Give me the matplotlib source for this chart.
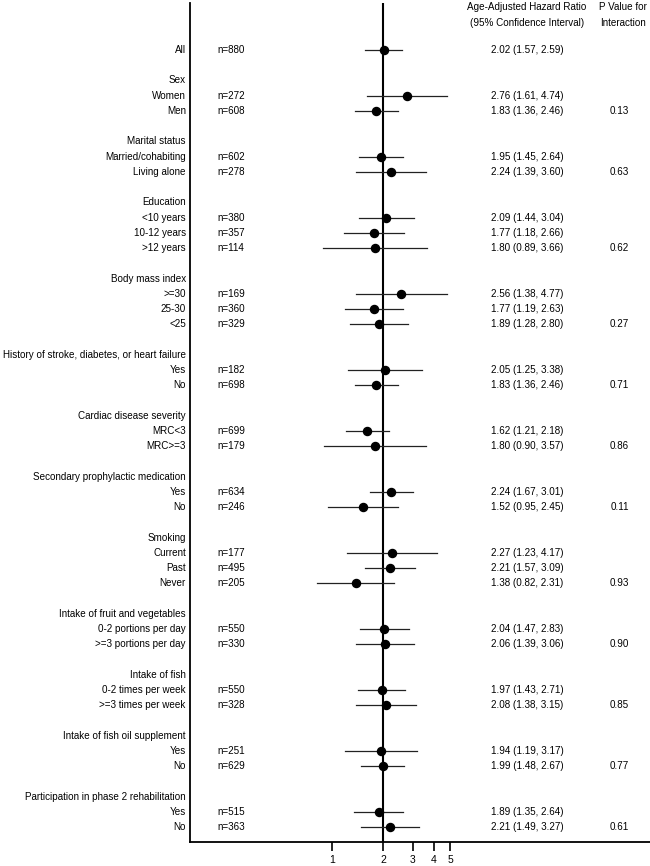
import numpy as np
import matplotlib
matplotlib.use("Agg")
import matplotlib.pyplot as plt
import matplotlib.transforms as mtransforms

plt.rcParams["font.family"] = ["Liberation Sans", "DejaVu Sans"]

# one entry per row, top to bottom; blank/header rows have no estimate
row_labels = [
    "All", "",
    "Sex", "Women", "Men", "",
    "Marital status", "Married/cohabiting", "Living alone", "",
    "Education", "<10 years", "10-12 years", ">12 years", "",
    "Body mass index", ">=30", "25-30", "<25", "",
    "History of stroke, diabetes, or heart failure", "Yes", "No", "",
    "Cardiac disease severity", "MRC<3", "MRC>=3", "",
    "Secondary prophylactic medication", "Yes", "No", "",
    "Smoking", "Current", "Past", "Never", "",
    "Intake of fruit and vegetables", "0-2 portions per day", ">=3 portions per day", "",
    "Intake of fish", "0-2 times per week", ">=3 times per week", "",
    "Intake of fish oil supplement", "Yes", "No", "",
    "Participation in phase 2 rehabilitation", "Yes", "No",
]
n_counts = [
    880, None,
    None, 272, 608, None,
    None, 602, 278, None,
    None, 380, 357, 114, None,
    None, 169, 360, 329, None,
    None, 182, 698, None,
    None, 699, 179, None,
    None, 634, 246, None,
    None, 177, 495, 205, None,
    None, 550, 330, None,
    None, 550, 328, None,
    None, 251, 629, None,
    None, 515, 363,
]
hr = [
    2.02, None,
    None, 2.76, 1.83, None,
    None, 1.95, 2.24, None,
    None, 2.09, 1.77, 1.80, None,
    None, 2.56, 1.77, 1.89, None,
    None, 2.05, 1.83, None,
    None, 1.62, 1.80, None,
    None, 2.24, 1.52, None,
    None, 2.27, 2.21, 1.38, None,
    None, 2.04, 2.06, None,
    None, 1.97, 2.08, None,
    None, 1.94, 1.99, None,
    None, 1.89, 2.21,
]
ci_low = [
    1.57, None,
    None, 1.61, 1.36, None,
    None, 1.45, 1.39, None,
    None, 1.44, 1.18, 0.89, None,
    None, 1.38, 1.19, 1.28, None,
    None, 1.25, 1.36, None,
    None, 1.21, 0.90, None,
    None, 1.67, 0.95, None,
    None, 1.23, 1.57, 0.82, None,
    None, 1.47, 1.39, None,
    None, 1.43, 1.38, None,
    None, 1.19, 1.48, None,
    None, 1.35, 1.49,
]
ci_high = [
    2.59, None,
    None, 4.74, 2.46, None,
    None, 2.64, 3.60, None,
    None, 3.04, 2.66, 3.66, None,
    None, 4.77, 2.63, 2.80, None,
    None, 3.38, 2.46, None,
    None, 2.18, 3.57, None,
    None, 3.01, 2.45, None,
    None, 4.17, 3.09, 2.31, None,
    None, 2.83, 3.06, None,
    None, 2.71, 3.15, None,
    None, 3.17, 2.67, None,
    None, 2.64, 3.27,
]
p_interaction = [
    None, None,
    None, None, "0.13", None,
    None, None, "0.63", None,
    None, None, None, "0.62", None,
    None, None, None, "0.27", None,
    None, None, "0.71", None,
    None, None, "0.86", None,
    None, None, "0.11", None,
    None, None, None, "0.93", None,
    None, None, "0.90", None,
    None, None, "0.85", None,
    None, None, "0.77", None,
    None, None, "0.61",
]
x_ticks = [1, 2, 3, 4, 5]

W, H = 650, 866
fig = plt.figure(figsize=(W / 100, H / 100), dpi=100)
left_px, right_px, top_px, bottom_px = 190, 650, 3, 842
ax = fig.add_axes([left_px / W, 1 - bottom_px / H,
                   (right_px - left_px) / W, (bottom_px - top_px) / H])

# log scale: 1 unit of ln(x) ~ 73.6 px, HR=2 at x=383 px
k = 73.6
ax.set_xscale("log")
ax.set_xlim(2 * np.exp((left_px - 383) / k), 2 * np.exp((right_px - 383) / k))
y_first, step = 50, 15.235
ax.set_ylim((bottom_px - y_first) / step, (top_px - y_first) / step)

ax.axvline(2, color="black", lw=1.5, zorder=1)

fs = 7.1
trans = mtransforms.blended_transform_factory(ax.transAxes, ax.transData)
for i, lab in enumerate(row_labels):
    if lab:
        ax.text(-0.009, i, lab, transform=trans, ha="right", va="center",
                fontsize=fs, clip_on=False)
    if hr[i] is not None:
        ax.plot([ci_low[i], ci_high[i]], [i, i], color="#222222", lw=0.9, zorder=2)
        ax.plot(hr[i], i, "o", color="black", ms=5.8, zorder=3)
        ax.text(0.0587, i, f"n={n_counts[i]}", transform=trans, ha="left",
                va="center", fontsize=fs)
        ax.text(0.7326, i, f"{hr[i]:.2f} ({ci_low[i]:.2f}, {ci_high[i]:.2f})",
                transform=trans, ha="center", va="center", fontsize=fs)
    if p_interaction[i] is not None:
        ax.text(0.934, i, p_interaction[i], transform=trans, ha="center",
                va="center", fontsize=fs)

hdr_rows = [(7 - y_first) / step, (23 - y_first) / step]
ax.text(0.7326, hdr_rows[0], "Age-Adjusted Hazard Ratio", transform=trans,
        ha="center", va="center", fontsize=fs)
ax.text(0.7326, hdr_rows[1], "(95% Confidence Interval)", transform=trans,
        ha="center", va="center", fontsize=fs)
ax.text(0.994, hdr_rows[0], "P Value for", transform=trans,
        ha="right", va="center", fontsize=fs)
ax.text(0.992, hdr_rows[1], "Interaction", transform=trans,
        ha="right", va="center", fontsize=fs)

for side in ("top", "right"):
    ax.spines[side].set_visible(False)
for side in ("left", "bottom"):
    ax.spines[side].set_linewidth(1.3)
ax.set_xticks(x_ticks)
ax.set_xticklabels([str(t) for t in x_ticks])
ax.xaxis.set_minor_locator(matplotlib.ticker.NullLocator())
ax.tick_params(axis="x", direction="out", length=6.5, width=1.2,
               labelsize=7.5, pad=3)
ax.set_yticks([])

fig.savefig("out.png", dpi=100)
